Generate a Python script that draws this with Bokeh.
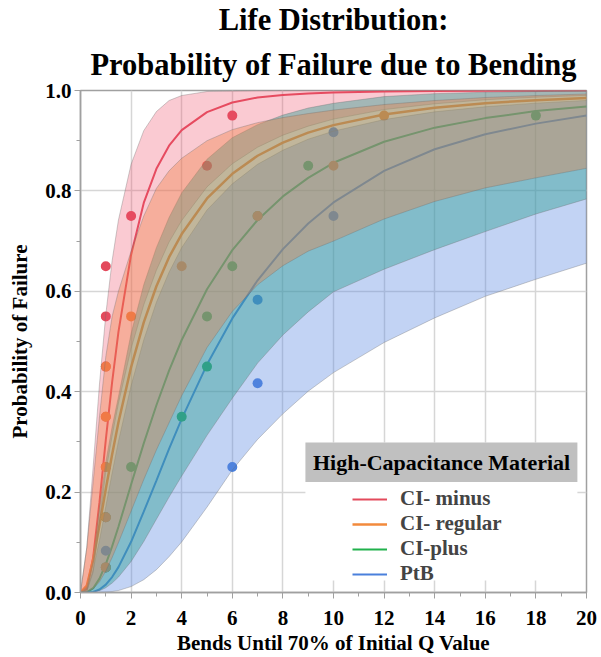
from bokeh.plotting import figure
from bokeh.models import (BoxAnnotation, Label, Legend, LegendItem, FixedTicker,
                          NumeralTickFormatter, Range1d, Title)
from bokeh.embed import file_html
from bokeh.resources import INLINE

FONT = "Liberation Serif"

# ---------------- data ----------------
X = [0, 0.25, 0.5, 0.75, 1, 1.25, 1.5, 2, 2.5, 3, 3.5, 4, 5, 6, 7, 8, 9, 10, 12, 14, 16, 18, 20]

minus_fit = [0, 0.007, 0.070, 0.180, 0.304, 0.419, 0.519, 0.673, 0.776, 0.844, 0.890, 0.921, 0.957, 0.976,
             0.986, 0.991, 0.994, 0.996, 0.998, 0.999, 0.9995, 0.9997, 0.9998]
minus_hi = [0, 0.09, 0.25, 0.415, 0.554, 0.661, 0.742, 0.853, 0.920, 0.958, 0.980, 0.990, 0.998, 0.999,
            0.9997, 0.9999, 1, 1, 1, 1, 1, 1, 1]
minus_lo = [0, 0.002, 0.04, 0.14, 0.241, 0.312, 0.377, 0.486, 0.573, 0.642, 0.698, 0.741, 0.808, 0.854,
            0.887, 0.911, 0.929, 0.943, 0.962, 0.9735, 0.9816, 0.9868, 0.9902]

regular_fit = [0, 0.0137, 0.065, 0.134, 0.206, 0.275, 0.339, 0.449, 0.538, 0.610, 0.668, 0.714, 0.785, 0.834,
               0.870, 0.896, 0.916, 0.931, 0.952, 0.9655, 0.9746, 0.9808, 0.9852]
regular_hi = [0, 0.09, 0.22, 0.35, 0.47, 0.55, 0.60, 0.68, 0.75, 0.805, 0.84, 0.865, 0.90, 0.922,
              0.936, 0.946, 0.954, 0.961, 0.972, 0.98, 0.986, 0.99, 0.993]
regular_lo = [0, 0.0007, 0.0069, 0.0213, 0.0427, 0.0698, 0.0994, 0.162, 0.225, 0.284, 0.338, 0.392, 0.488, 0.560,
              0.613, 0.651, 0.680, 0.700, 0.744, 0.779, 0.806, 0.826, 0.845]

plus_fit = [0, 0.0007, 0.0086, 0.0276, 0.0564, 0.0918, 0.131, 0.215, 0.297, 0.373, 0.442, 0.503, 0.604, 0.682,
            0.742, 0.789, 0.826, 0.856, 0.898, 0.926, 0.945, 0.959, 0.968]
plus_hi = [0, 0.011, 0.064, 0.17, 0.26, 0.33, 0.39, 0.516, 0.613, 0.687, 0.747, 0.796, 0.863, 0.906,
           0.932, 0.951, 0.965, 0.9745, 0.9878, 0.9937, 0.9965, 0.9979, 0.9987]
plus_lo = [0, 0, 0.0008, 0.0036, 0.0095, 0.0188, 0.0307, 0.0618, 0.1015, 0.146, 0.190, 0.232, 0.313, 0.387,
           0.457, 0.513, 0.559, 0.599, 0.644, 0.683, 0.719, 0.754, 0.784]

ptb_fit = [0, 0.0001, 0.0012, 0.0059, 0.0157, 0.0307, 0.0506, 0.101, 0.161, 0.223, 0.286, 0.346, 0.454, 0.546,
           0.622, 0.684, 0.735, 0.777, 0.840, 0.883, 0.913, 0.934, 0.950]
ptb_hi = [0, 0.004, 0.045, 0.104, 0.171, 0.238, 0.301, 0.412, 0.503, 0.578, 0.638, 0.687, 0.762, 0.814,
          0.853, 0.881, 0.903, 0.919, 0.942, 0.9575, 0.9676, 0.9748, 0.9802]
ptb_lo = [0, 0, 0, 0.0002, 0.0007, 0.0019, 0.0039, 0.0118, 0.0255, 0.0454, 0.0713, 0.1008, 0.170, 0.244,
          0.305, 0.356, 0.401, 0.438, 0.498, 0.547, 0.590, 0.624, 0.656]

minus_pts_x = [1, 1, 1, 1, 1, 1, 1, 2, 5, 6]
minus_pts_y = [0.05, 0.15, 0.25, 0.35, 0.45, 0.55, 0.65, 0.75, 0.85, 0.95]
regular_pts_x = [1, 1, 1, 1, 1, 2, 4, 7, 10, 12]
regular_pts_y = [0.05, 0.15, 0.25, 0.35, 0.45, 0.55, 0.65, 0.75, 0.85, 0.95]
plus_pts_x = [1, 1, 2, 4, 5, 5, 6, 7, 9, 18]
plus_pts_y = [0.05, 0.15, 0.25, 0.35, 0.45, 0.55, 0.65, 0.75, 0.85, 0.95]
ptb_pts_x = [1, 6, 7, 7, 10, 10]
ptb_pts_y = [0.083, 0.25, 0.417, 0.583, 0.75, 0.917]

series_names = ["CI- minus", "CI- regular", "CI-plus", "PtB"]
x_ticks = [0, 2, 4, 6, 8, 10, 12, 14, 16, 18, 20]
y_ticks = [0.0, 0.2, 0.4, 0.6, 0.8, 1.0]

# ---------------- styles ----------------
RED = "#e34a5c"
ORANGE = "#f28a3c"
GREEN = "#21b14d"
BLUE = "#4a80dc"
RED_BAND = "#f0506a"
ORANGE_BAND = "#f08040"
GREEN_BAND = "#2a9d8f"
BLUE_BAND = "#5a88e0"
AXC = "#a0a0a0"

p = figure(width=598, height=657, x_range=Range1d(0, 20), y_range=Range1d(0, 1),
           output_backend="svg", toolbar_location=None,
           min_border_left=80, min_border_right=12, min_border_top=89, min_border_bottom=63)

p.title.text = "Life Distribution:"
p.title.align = "center"
p.title.text_font = FONT
p.title.text_font_style = "bold"
p.title.text_font_size = "30.5px"
p.title.text_color = "black"
p.title.text_line_height = 1.0
p.title.standoff = 0
p.add_layout(Title(text="Probability of Failure due to Bending", align="center", text_font=FONT,
                   text_font_style="bold", text_font_size="30.5px", text_color="black",
                   text_line_height=1.0, standoff=18), "above")

p.xaxis.ticker = FixedTicker(ticks=x_ticks, minor_ticks=[1, 3, 5, 7, 9, 11, 13, 15, 17, 19])
p.yaxis.ticker = FixedTicker(ticks=y_ticks, minor_ticks=[0.1, 0.3, 0.5, 0.7, 0.9])
p.yaxis.formatter = NumeralTickFormatter(format="0.0")
p.xaxis.axis_label = "Bends Until 70% of Initial Q Value"
p.yaxis.axis_label = "Probability of Failure"
for ax in (p.xaxis, p.yaxis):
    ax.axis_line_color = AXC
    ax.axis_line_width = 1.5
    ax.major_tick_line_color = AXC
    ax.minor_tick_line_color = AXC
    ax.major_tick_out = 6
    ax.major_tick_in = 0
    ax.minor_tick_out = 4
    ax.minor_tick_in = 0
    ax.major_label_text_font = FONT
    ax.major_label_text_font_style = "bold"
    ax.major_label_text_font_size = "21px"
    ax.major_label_text_color = "black"
    ax.axis_label_text_font = FONT
    ax.axis_label_text_font_style = "bold"
    ax.axis_label_text_font_size = "21px"
    ax.axis_label_text_color = "black"
p.xaxis.major_label_standoff = 12
p.yaxis.major_label_standoff = 3
p.xaxis.axis_label_standoff = 3
p.yaxis.axis_label_standoff = 10

p.xgrid.ticker = FixedTicker(ticks=x_ticks)
p.ygrid.ticker = FixedTicker(ticks=y_ticks)
p.grid.grid_line_color = "#d6d6d6"
p.grid.grid_line_width = 1.5
p.outline_line_color = AXC
p.outline_line_width = 1.5

# fitted lines
r_minus = p.line(X, minus_fit, color=RED, line_width=2)
r_regular = p.line(X, regular_fit, color=ORANGE, line_width=2.5)
r_plus = p.line(X, plus_fit, color=GREEN, line_width=2)
r_ptb = p.line(X, ptb_fit, color=BLUE, line_width=2)

# data points
p.scatter(minus_pts_x, minus_pts_y, size=10, fill_color=RED, line_color=None)
p.scatter(plus_pts_x, plus_pts_y, size=10, fill_color=GREEN, line_color=None)
p.scatter(ptb_pts_x, ptb_pts_y, size=10, fill_color=BLUE, line_color=None)
p.scatter(regular_pts_x, regular_pts_y, size=10, fill_color=ORANGE, line_color=None)

# confidence bands (drawn over lines and points)
for lo, hi, col, a in ((minus_lo, minus_hi, RED_BAND, 0.30), (ptb_lo, ptb_hi, BLUE_BAND, 0.37),
                       (plus_lo, plus_hi, GREEN_BAND, 0.42), (regular_lo, regular_hi, ORANGE_BAND, 0.37)):
    p.varea(x=X, y1=lo, y2=hi, fill_color=col, fill_alpha=a)
    p.line(X, lo, color="#707070", line_alpha=0.35, line_width=1)
    p.line(X, hi, color="#707070", line_alpha=0.35, line_width=1)

# legend panel
p.add_layout(BoxAnnotation(left=8.89, right=19.64, bottom=0.024, top=0.299,
                           fill_color="white", fill_alpha=1, line_color=None))
p.add_layout(BoxAnnotation(left=8.89, right=19.64, bottom=0.22, top=0.299,
                           fill_color="#c0c0c0", fill_alpha=1, line_color=None))
p.add_layout(Label(x=14.27, y=0.2595, text="High-Capacitance Material", text_align="center",
                   text_baseline="middle", text_font=FONT, text_font_style="bold",
                   text_font_size="22px", text_color="black"))

legend = Legend(items=[LegendItem(label=series_names[0], renderers=[r_minus]),
                       LegendItem(label=series_names[1], renderers=[r_regular]),
                       LegendItem(label=series_names[2], renderers=[r_plus]),
                       LegendItem(label=series_names[3], renderers=[r_ptb])],
                location=(272, 6), glyph_width=35, glyph_height=20, label_height=20,
                spacing=0, label_standoff=13, padding=0, margin=0,
                background_fill_alpha=0, border_line_color=None,
                label_text_font=FONT, label_text_font_style="bold", label_text_font_size="21px")
p.add_layout(legend)

open("out.html", "w").write(file_html(p, INLINE))
